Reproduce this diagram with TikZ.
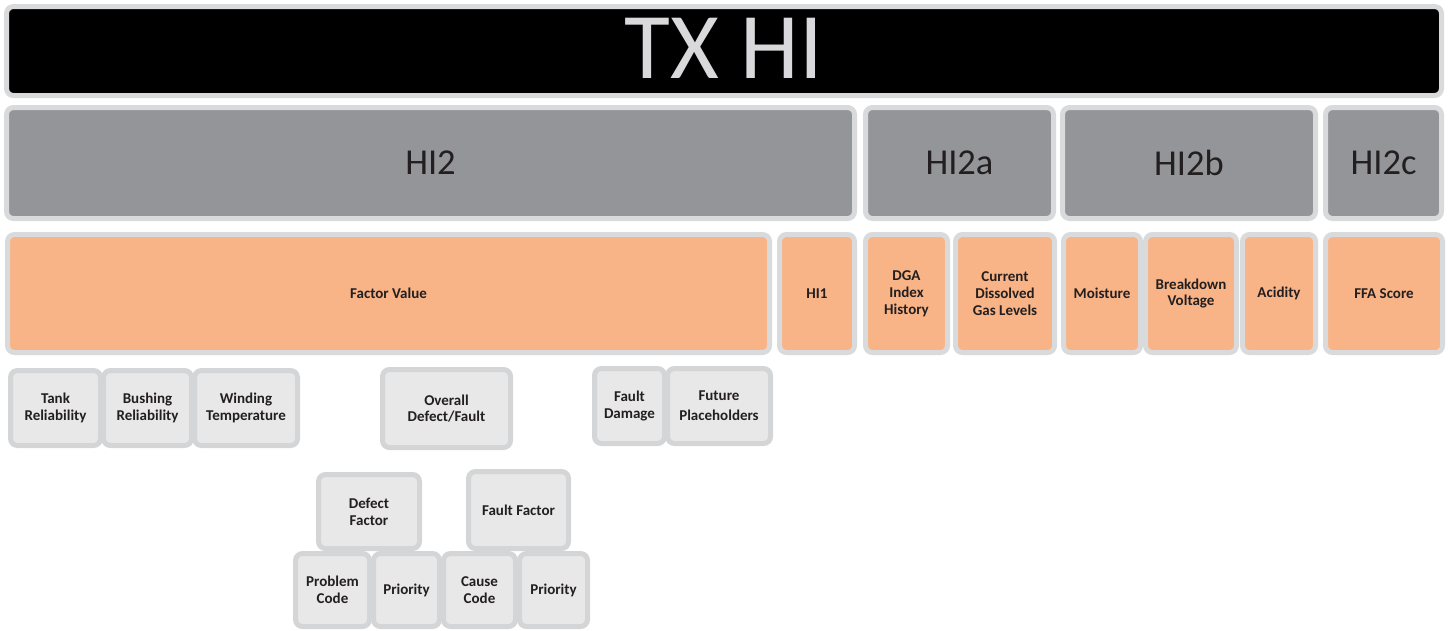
\documentclass[tikz,border=0pt]{standalone}
\usepackage{fontspec}
\setmainfont{Carlito}
\definecolor{bord}{HTML}{D9DADC}
\definecolor{lbord}{HTML}{D4D5D6}
\definecolor{midgrey}{HTML}{939598}
\definecolor{orng}{HTML}{F8B486}
\definecolor{lfill}{HTML}{E8E8E8}
\definecolor{txt}{HTML}{231F20}
\definecolor{titlegrey}{HTML}{D9D9DB}
\newcommand{\bx}[7]{%
  \pgfmathsetmacro\cx{(#3+#5)/2}%
  \pgfmathsetmacro\cy{(#4+#6)/2}%
  \pgfmathsetmacro\bw{#5-#3-5}%
  \pgfmathsetmacro\bh{#6-#4-5}%
  \node[#1, minimum width=\bw pt, minimum height=\bh pt] (#2) at (\cx pt,-\cy pt) {#7};}
\tikzset{
  basebox/.style={rectangle, rounded corners=7pt, line width=5pt, inner sep=0pt, align=center, text=txt},
  topbox/.style={basebox, draw=bord, fill=black, text=titlegrey, font=\fontsize{94}{100}\selectfont, text height=60pt, text depth=6pt},
  greybox/.style={basebox, draw=bord, fill=midgrey, font=\fontsize{36.5}{40}\selectfont},
  orangebox/.style={basebox, draw=bord, fill=orng, font=\bfseries\fontsize{15}{16.8}\selectfont},
  lightbox/.style={basebox, draw=lbord, fill=lfill, font=\bfseries\fontsize{15}{16.8}\selectfont},
}
\begin{document}
\begin{tikzpicture}
\useasboundingbox (0,0) rectangle (1448pt,-630pt);
\bx{topbox}{top}{4}{4}{1444}{98}{TX HI}
\bx{greybox}{hi2}{4}{105}{857}{221}{HI2}
\bx{greybox}{hi2a}{863}{105}{1056}{221}{HI2a}
\bx{greybox}{hi2b}{1060}{105}{1318}{221}{HI2b}
\bx{greybox}{hi2c}{1323}{105}{1444}{221}{HI2c}
\bx{orangebox}{factor}{5}{232}{772}{355}{Factor Value}
\bx{orangebox}{hi1}{777}{232}{857}{355}{HI1}
\bx{orangebox}{dga}{863}{232}{950}{355}{DGA\\Index\\History}
\bx{orangebox}{current}{953}{232}{1057}{355}{Current\\Dissolved\\Gas Levels}
\bx{orangebox}{moist}{1061}{232}{1143}{355}{Moisture}
\bx{orangebox}{brk}{1143}{232}{1239}{355}{Breakdown\\Voltage}
\bx{orangebox}{acid}{1240}{232}{1318}{355}{Acidity}
\bx{orangebox}{ffa}{1323}{232}{1445}{355}{FFA Score}
\bx{lightbox}{tank}{8}{368}{103}{448}{Tank\\Reliability}
\bx{lightbox}{bush}{101}{368}{194}{448}{Bushing\\Reliability}
\bx{lightbox}{wind}{192}{368}{300}{448}{Winding\\Temperature}
\bx{lightbox}{overall}{380}{367}{513}{450}{Overall\\Defect/Fault}
\bx{lightbox}{fdmg}{592}{366}{667}{446}{Fault\\Damage}
\bx{lightbox}{future}{665}{366}{773}{446}{Future\\[3pt]Placeholders}
\bx{lightbox}{defect}{316}{472}{422}{551}{Defect\\Factor}
\bx{lightbox}{ffactor}{466}{469}{571}{551}{Fault Factor}
\bx{lightbox}{prob}{293}{551}{372}{629}{Problem\\Code}
\bx{lightbox}{prio1}{371}{551}{442}{629}{Priority}
\bx{lightbox}{cause}{441}{551}{518}{629}{Cause\\Code}
\bx{lightbox}{prio2}{517}{551}{590}{629}{Priority}
\end{tikzpicture}
\end{document}
